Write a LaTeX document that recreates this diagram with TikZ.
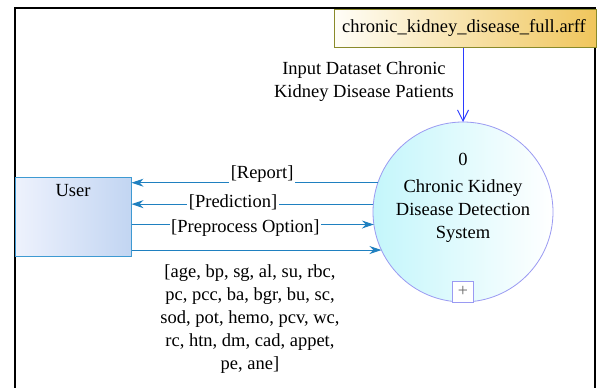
\documentclass[tikz,border=0pt]{standalone}
\usepackage{fontspec}
\setmainfont{Liberation Serif}
\newfontfamily\diagfont{Liberation Serif}
\usetikzlibrary{arrows.meta}
\definecolor{flowc}{HTML}{1F80C0}
\definecolor{inflowc}{HTML}{2B3BFF}
\definecolor{userl}{HTML}{EEF2FD}
\definecolor{userr}{HTML}{C2D5F2}
\definecolor{userb}{HTML}{3E9AD2}
\definecolor{sysl}{HTML}{C4F6FB}
\definecolor{sysb}{HTML}{9A9AF2}
\definecolor{filel}{HTML}{FFFEF8}
\definecolor{filer}{HTML}{F0C65C}
\definecolor{fileb}{HTML}{8A8A2A}
\tikzset{
  txt/.style={font=\diagfont\fontsize{18.5}{23}\selectfont, text=black},
  flow/.style={draw=flowc, line width=1pt, -{Stealth[length=12pt,width=8pt]}},
  flowlbl/.style={txt, fill=white, inner sep=1.5pt},
}
\begin{document}
\begin{tikzpicture}[x=1pt,y=-1pt]
\useasboundingbox (0,0) rectangle (598,388);
\fill[white] (0,0) rectangle (598,388);
\draw[black, line width=2pt] (15,388) -- (15,8) -- (595,8) -- (595,388);
% nodes
\node[draw=sysb, line width=0.8pt, circle, minimum size=180pt, inner sep=0pt, outer sep=0pt,
      shading=axis, left color=sysl, right color=white] (sys) at (463,212) {};
\node[txt, align=center] (systxt) at (463,197.5) {0\\[4pt]Chronic Kidney\\Disease Detection\\System};
\node[draw=sysb, line width=0.6pt, fill=white, minimum width=21pt, minimum height=21pt, inner sep=0pt,
      text=black!60] (plus) at (463,291.5) {\fontsize{18}{18}\selectfont +};
\node[draw=userb, line width=1pt, rectangle, minimum width=116pt, minimum height=79pt, inner sep=0pt,
      shading=axis, left color=userl, right color=userr] (user) at (73,216.5) {};
\node[txt, anchor=north] (usertxt) at ([yshift=-4pt]user.north) {User};
\node[draw=fileb, line width=1pt, rectangle, minimum width=262pt, minimum height=38pt, inner sep=0pt,
      shading=axis, left color=filel, right color=filer] (file) at (465,28) {};
\node[txt] (filetxt) at (464,28) {chronic\_kidney\_disease\_full.arff};
% input flow
\draw[draw=inflowc, line width=1pt, -{Straight Barb[length=11pt,width=11pt]}] (file.south -| sys.north) -- (sys.north);
\node[txt, align=center] (inlbl) at (364,82) {Input Dataset Chronic\\Kidney Disease Patients};
% flows
\coordinate (r1) at (sys.161.2);
\coordinate (r2) at (sys.175.5);
\coordinate (r3) at (sys.188.3);
\coordinate (r4) at (sys.205.7);
\draw[flow] (r1) -- (user.east |- r1) node[flowlbl, pos=0.47, yshift=9pt] {[Report]};
\draw[flow] (r2) -- (user.east |- r2) node[flowlbl, pos=0.58, yshift=2pt] {[Prediction]};
\draw[flow] (user.east |- r3) -- (r3) node[flowlbl, pos=0.47, yshift=-4pt] {[Preprocess Option]};
\draw[flow] (user.east |- r4) -- (r4);
\node[txt, align=center, anchor=north] (attrs) at (250,261) {[age, bp, sg, al, su, rbc,\\pc, pcc, ba, bgr, bu, sc,\\sod, pot, hemo, pcv, wc,\\rc, htn, dm, cad, appet,\\pe, ane]};
\end{tikzpicture}
\end{document}
